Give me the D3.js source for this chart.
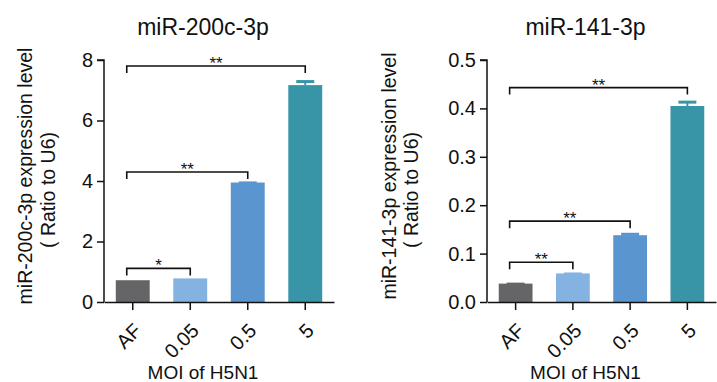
<!DOCTYPE html>
<html>
<head>
<meta charset="utf-8">
<script src="https://cdn.jsdelivr.net/npm/d3@7"></script>
<style>
  html, body { margin: 0; padding: 0; background: #fff; }
  svg text { font-family: Arial, "Liberation Sans", Helvetica, sans-serif; fill: #111; }
</style>
</head>
<body>
<svg id="chart" width="717" height="382"></svg>
<script>
// Groups on the x axis (MOI of H5N1)
const categories = ["AF", "0.05", "0.5", "5"];
const barColors = ["#656567", "#84b3e2", "#5b95cf", "#3895a8"];

// miR-200c-3p: means and upper error (SEM)
const mir200Values = [0.72, 0.78, 3.95, 7.17];
const mir200Errors = [0.0, 0.0, 0.02, 0.15];
const mir200Ticks = [0, 2, 4, 6, 8];
// significance brackets: [from group, to group, height, label]
const mir200Sig = [[0, 1, 1.11, "*"], [0, 2, 4.3, "**"], [0, 3, 7.8, "**"]];

// miR-141-3p: means and upper error (SEM)
const mir141Values = [0.038, 0.059, 0.138, 0.405];
const mir141Errors = [0.001, 0.001, 0.004, 0.01];
const mir141Ticks = [0.0, 0.1, 0.2, 0.3, 0.4, 0.5];
const mir141Sig = [[0, 1, 0.082, "**"], [0, 2, 0.167, "**"], [0, 3, 0.443, "**"]];

const svg = d3.select("#chart");
const FONT = "Arial, 'Liberation Sans', Helvetica, sans-serif";

function panel(opt) {
  const g = svg.append("g");
  const x = d3.scaleBand().domain(categories).range([opt.x0, opt.x1]).paddingInner(0.41).paddingOuter(0.205);
  const y = d3.scaleLinear().domain([0, opt.max]).range([302, 60]);

  // bars
  g.selectAll("rect.bar").data(opt.values).enter().append("rect")
    .attr("x", (d, i) => x(categories[i]))
    .attr("y", d => y(d))
    .attr("width", x.bandwidth())
    .attr("height", d => y(0) - y(d))
    .attr("fill", (d, i) => barColors[i]);

  // error bars (upper only)
  opt.values.forEach((v, i) => {
    const e = opt.errors[i];
    if (e <= 0) return;
    const cx = x(categories[i]) + x.bandwidth() / 2;
    g.append("line").attr("x1", cx).attr("x2", cx).attr("y1", y(v)).attr("y2", y(v + e))
      .attr("stroke", barColors[i]).attr("stroke-width", 2);
    g.append("line").attr("x1", cx - 9).attr("x2", cx + 9).attr("y1", y(v + e) + 1).attr("y2", y(v + e) + 1)
      .attr("stroke", barColors[i]).attr("stroke-width", 3);
  });

  // y axis
  const yAxis = d3.axisLeft(y).tickValues(opt.ticks).tickFormat(opt.fmt).tickSize(7).tickPadding(4);
  const ya = g.append("g").attr("transform", `translate(${opt.x0},0)`).call(yAxis);
  ya.select(".domain").attr("stroke", "#111").attr("stroke-width", 1.5).attr("d", `M-7,${y(opt.max)}H0V${y(0)}`);
  ya.selectAll(".tick line").attr("stroke", "#111").attr("stroke-width", 1.5);
  ya.selectAll(".tick text").attr("font-size", 20).style("font-family", FONT).attr("fill", "#111");

  // x axis
  const xAxis = d3.axisBottom(x).tickSize(8).tickSizeOuter(0);
  const xa = g.append("g").attr("transform", `translate(0,${y(0)})`).call(xAxis);
  xa.select(".domain").attr("stroke", "#111").attr("stroke-width", 1.5);
  xa.selectAll(".tick line").attr("stroke", "#111").attr("stroke-width", 1.5);
  xa.selectAll(".tick text")
    .attr("font-size", 20).attr("fill", "#111")
    .style("font-family", FONT)
    .attr("text-anchor", "end")
    .attr("x", 0).attr("y", 0)
    .attr("dy", "0.35em")
    .attr("transform", "translate(5,25) rotate(-45)");

  // significance brackets
  opt.sig.forEach(([a, b, h, lab]) => {
    const xa0 = x(categories[a]) + x.bandwidth() / 2 - 6;
    const xb0 = x(categories[b]) + x.bandwidth() / 2;
    const yy = y(h);
    g.append("path").attr("d", `M${xa0},${yy + 7}V${yy}H${xb0}V${yy + 7}`)
      .attr("fill", "none").attr("stroke", "#111").attr("stroke-width", 1.6);
    g.append("text").attr("x", (xa0 + xb0) / 2).attr("y", yy + 3)
      .attr("text-anchor", "middle").attr("font-size", 17).text(lab);
  });

  // title
  g.append("text").attr("x", (opt.x0 + opt.x1) / 2 - 16).attr("y", 35)
    .attr("text-anchor", "middle").attr("font-size", 23).text(opt.title);

  // y label (two lines)
  g.append("text").attr("transform", `translate(${opt.ly1},176) rotate(-90)`)
    .attr("text-anchor", "middle").attr("dy", "0.35em").attr("font-size", 19.5).text(opt.ylabel);
  g.append("text").attr("transform", `translate(${opt.ly2},190) rotate(-90)`)
    .attr("text-anchor", "middle").attr("dy", "0.35em").attr("font-size", 19.5).text("( Ratio to U6)");

  // x label
  g.append("text").attr("x", (opt.x0 + opt.x1) / 2 - 16).attr("y", 379)
    .attr("text-anchor", "middle").attr("font-size", 19).text("MOI of H5N1");
}

panel({
  x0: 104, x1: 334, max: 8, values: mir200Values, errors: mir200Errors,
  ticks: mir200Ticks, fmt: d3.format("d"), sig: mir200Sig,
  title: "miR-200c-3p", ylabel: "miR-200c-3p expression level", ly1: 25, ly2: 48
});
panel({
  x0: 487, x1: 716, max: 0.5, values: mir141Values, errors: mir141Errors,
  ticks: mir141Ticks, fmt: d3.format(".1f"), sig: mir141Sig,
  title: "miR-141-3p", ylabel: "miR-141-3p expression level", ly1: 389, ly2: 411
});
</script>
</body>
</html>
